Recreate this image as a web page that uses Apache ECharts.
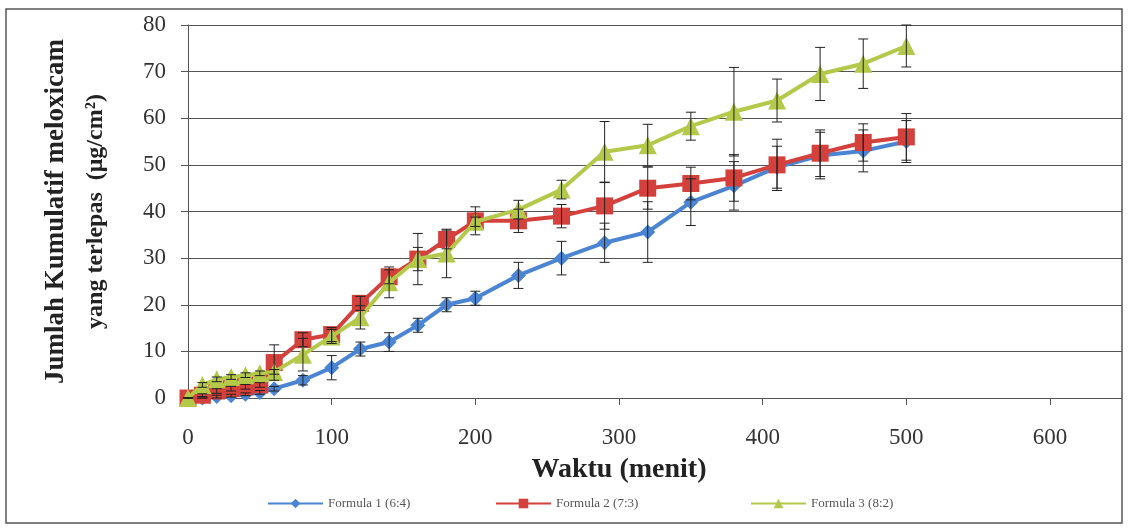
<!DOCTYPE html>
<html>
<head>
<meta charset="utf-8">
<script src="https://cdn.jsdelivr.net/npm/echarts@6/dist/echarts.min.js"></script>
<style>
  html, body { margin: 0; padding: 0; background: #fff; }
  #chart { width: 1131px; height: 530px; }
</style>
</head>
<body>
<div id="chart"></div>
<script>
// waktu (menit)
var times = [0, 10, 20, 30, 40, 50, 60, 80, 100, 120, 140, 160, 180, 200, 230, 260, 290, 320, 350, 380, 410, 440, 470, 500];
var seriesNames = ['Formula 1 (6:4)', 'Formula 2 (7:3)', 'Formula 3 (8:2)'];
// jumlah kumulatif
var f1 = [0, 0, 0.3, 0.5, 0.8, 1.2, 2, 3.8, 6.5, 10.5, 12, 15.6, 20, 21.4, 26.3, 30, 33.3, 35.6, 42, 45.5, 49.5, 52, 53, 55];
var f2 = [0, 0.6, 1.5, 2, 2.4, 2.8, 7.6, 12.5, 13.6, 20.3, 26, 29.8, 34, 38, 38, 39, 41.2, 45, 46, 47.2, 50, 52.5, 54.8, 56];
var f3 = [0, 2.8, 4, 4.5, 4.9, 5.3, 5.6, 9.3, 13.2, 17.3, 24.8, 29.8, 31, 37.8, 40.4, 44.7, 52.8, 54.2, 58.3, 61.4, 63.8, 69.5, 71.7, 75.5];
// SD
var e1 = [0, 0, 0.3, 0.3, 0.3, 0.4, 0.5, 1, 2.6, 1.5, 2, 1.5, 1.5, 1.5, 2.8, 3.6, 4.2, 6.5, 5, 5.2, 4.5, 5, 4.5, 4.5];
var e2 = [0, 0.3, 0.5, 0.5, 0.5, 0.5, 3.8, 1.5, 1.5, 1.5, 1.5, 2.5, 2, 3, 2.5, 2.5, 5, 4.5, 3.5, 5, 5.5, 5, 4, 5];
var e3 = [0, 0.5, 0.5, 0.5, 0.5, 0.5, 0.5, 3.5, 1.5, 2.5, 3.3, 5.5, 5.2, 1, 2, 2, 6.5, 4.5, 3, 9.5, 4.6, 5.7, 5.3, 4.5];
var xTicks = [0, 100, 200, 300, 400, 500, 600];
var yTicks = [0, 10, 20, 30, 40, 50, 60, 70, 80];

var colors = ['#4a84d2', '#d4403b', '#b4c84a'];
var symbols = ['diamond', 'rect', 'triangle'];
var symbolSizes = [15, 17, 18];
var legendLeft = [262, 490, 745];

var chart = echarts.init(document.getElementById('chart'));

function pairs(vals) {
  return times.map(function (t, i) { return [t, vals[i]]; });
}
function errData(vals, errs) {
  return times.map(function (t, i) { return [t, vals[i] - errs[i], vals[i] + errs[i]]; });
}
function errorItem(params, api) {
  var x = api.value(0);
  var top = api.coord([x, api.value(2)]);
  var bot = api.coord([x, api.value(1)]);
  var w = 5;
  var st = { stroke: '#222', lineWidth: 1 };
  return {
    type: 'group',
    children: [
      { type: 'line', shape: { x1: top[0], y1: top[1], x2: bot[0], y2: bot[1] }, style: st },
      { type: 'line', shape: { x1: top[0] - w, y1: top[1], x2: top[0] + w, y2: top[1] }, style: st },
      { type: 'line', shape: { x1: bot[0] - w, y1: bot[1], x2: bot[0] + w, y2: bot[1] }, style: st }
    ]
  };
}

var vals = [f1, f2, f3];
var errs = [e1, e2, e3];
var series = [];
vals.forEach(function (v, k) {
  series.push({
    name: seriesNames[k],
    type: 'line',
    xAxisIndex: 0, yAxisIndex: 0,
    data: pairs(v),
    symbol: symbols[k],
    symbolSize: symbolSizes[k],
    lineStyle: { width: 4, color: colors[k] },
    itemStyle: { color: colors[k] },
    z: 3 + k
  });
});
vals.forEach(function (v, k) {
  series.push({
    type: 'custom',
    xAxisIndex: 0, yAxisIndex: 0,
    data: errData(v, errs[k]),
    encode: { x: 0, y: [1, 2] },
    renderItem: errorItem,
    silent: true,
    z: 10
  });
});

var serif = 'Liberation Serif';
var legends = seriesNames.map(function (n, k) {
  return {
    data: [n],
    left: legendLeft[k],
    top: 492,
    itemWidth: 55,
    itemHeight: 12,
    textStyle: { fontFamily: serif, fontSize: 13, color: '#555' }
  };
});

var option = {
  animation: false,
  textStyle: { fontFamily: serif },
  graphic: [{
    type: 'rect',
    shape: { x: 6, y: 9, width: 1116, height: 514 },
    style: { fill: 'none', stroke: '#555', lineWidth: 1.5 },
    silent: true
  }],
  grid: [
    { left: 188, right: 81, top: 25, bottom: 132, outerBoundsMode: 'none', containLabel: false },
    { left: 188, right: 9, top: 25, bottom: 132, outerBoundsMode: 'none', containLabel: false }
  ],
  legend: legends,
  xAxis: [{
    type: 'value',
    gridIndex: 0,
    min: 0, max: 600, interval: 100,
    name: 'Waktu (menit)',
    nameLocation: 'middle',
    nameGap: 58,
    nameTextStyle: { fontFamily: serif, fontSize: 28, fontWeight: 'bold', color: '#222' },
    axisLine: { lineStyle: { color: '#555', width: 1 } },
    axisTick: { show: true, length: 7, lineStyle: { color: '#555' } },
    axisLabel: {
      fontFamily: serif, fontSize: 23, color: '#333', margin: 28,
      formatter: function (v) { return xTicks.indexOf(v) >= 0 ? v : ''; }
    },
    splitLine: { show: false }
  }, {
    type: 'value', gridIndex: 1, min: 0, max: 650, show: false
  }],
  yAxis: [{
    type: 'value',
    gridIndex: 0,
    min: 0, max: 80, interval: 10,
    name: '{a|Jumlah Kumulatif meloxicam}\n{b|yang terlepas  (μg/cm²)}',
    nameLocation: 'middle',
    nameGap: 72,
    nameTextStyle: {
      fontFamily: serif, fontWeight: 'bold', color: '#222',
      rich: {
        a: { fontFamily: serif, fontSize: 27, fontWeight: 'bold', color: '#222', lineHeight: 40 },
        b: { fontFamily: serif, fontSize: 24, fontWeight: 'bold', color: '#222', lineHeight: 40 }
      }
    },
    axisLine: { show: true, lineStyle: { color: '#555', width: 1 } },
    axisTick: { show: true, length: 7, lineStyle: { color: '#555' } },
    axisLabel: {
      fontFamily: serif, fontSize: 23, color: '#333', margin: 22,
      formatter: function (v) { return yTicks.indexOf(v) >= 0 ? v : ''; }
    },
    splitLine: { show: false }
  }, {
    type: 'value',
    gridIndex: 1,
    min: 0, max: 80, interval: 10,
    axisLine: { show: false },
    axisTick: { show: false },
    axisLabel: { show: false },
    splitLine: { show: true, lineStyle: { color: '#555', width: 1.2 } }
  }],
  series: series
};
chart.setOption(option);
</script>
</body>
</html>
